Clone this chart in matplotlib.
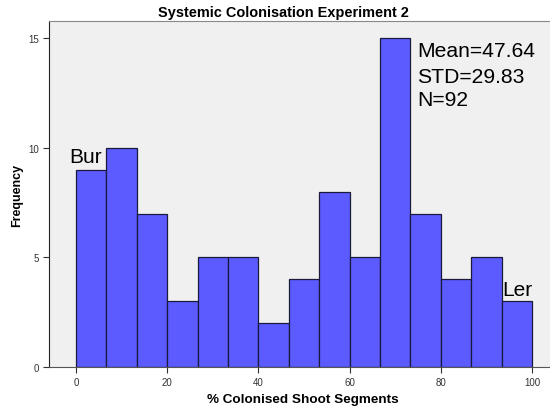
import numpy as np
import matplotlib
matplotlib.use("Agg")
import matplotlib.pyplot as plt

plt.rcParams['font.family'] = ['Liberation Sans', 'DejaVu Sans']

# bin edges: 15 equal bins over 0-100
bin_edges = np.linspace(0, 100, 16)
counts = [9, 10, 7, 3, 5, 5, 2, 4, 8, 5, 15, 7, 4, 5, 3]
x_ticks = [0, 20, 40, 60, 80, 100]
y_ticks = [0, 5, 10, 15]
stats_lines = ["Mean=47.64", "STD=29.83", "N=92"]

W, H = 550, 410
fig = plt.figure(figsize=(W / 100, H / 100), dpi=100)
ax = fig.add_axes([49 / W, 42 / H, 503 / W, 346 / H])
ax.set_facecolor("#f0f0f0")

widths = np.diff(bin_edges)
ax.bar(bin_edges[:-1], counts, width=widths, align="edge",
       color="#5b5bff", edgecolor="#1a1a3a", linewidth=0.9)

ax.set_xlim(-5.92, 104.4)
ax.set_ylim(0, 15.78)
ax.set_xticks(x_ticks)
ax.set_yticks(y_ticks)
ax.tick_params(axis="both", direction="out", length=4, width=0.8,
               labelsize=7, colors="#333333", pad=3)

for side in ("top", "right"):
    ax.spines[side].set_color("#888888")
ax.spines["left"].set_color("#222222")
ax.spines["bottom"].set_color("#555555")

# title centred over the full chart, as in the original export
fig.text(283 / W, 1 - 13 / H, "Systemic Colonisation Experiment 2",
         fontsize=10.45, fontweight="bold", ha="center", va="center")
ax.set_xlabel("% Colonised Shoot Segments", fontsize=9.7, fontweight="bold")
ax.xaxis.set_label_coords((303 - 49) / 503, -(400 - 368) / 346)
ax.xaxis.label.set_va("center")
ax.set_ylabel("Frequency", fontsize=9, fontweight="bold")
ax.yaxis.set_label_coords(-(49 - 17) / 503, 0.5)
ax.yaxis.label.set_va("center")

ax.text(-1.5, 9.35, "Bur", fontsize=15, ha="left", va="baseline")
ax.text(93.4, 3.28, "Ler", fontsize=15, ha="left", va="baseline")
for line, yb in zip(stats_lines, [14.2, 12.98, 11.95]):
    ax.text(74.8, yb, line, fontsize=15.2, ha="left", va="baseline")

fig.savefig("out.png", dpi=100)
